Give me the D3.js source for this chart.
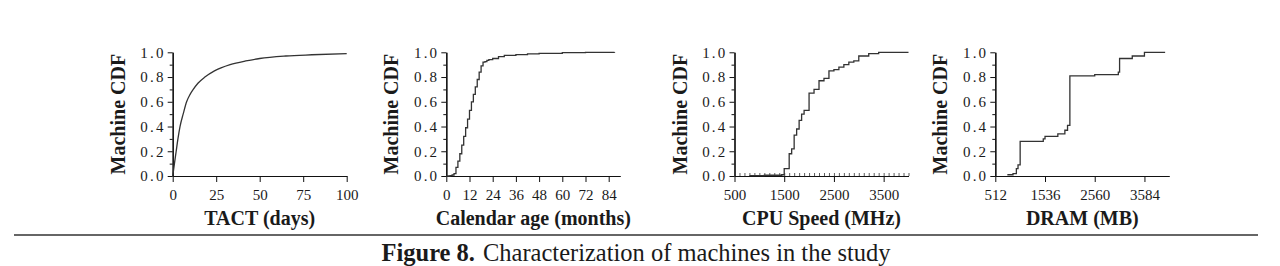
<!DOCTYPE html>
<html>
<head>
<meta charset="utf-8">
<script src="https://cdn.jsdelivr.net/npm/d3@7/dist/d3.min.js"></script>
<style>
  body { margin: 0; background: #fff; }
  svg text { font-family: "Liberation Serif", "Times New Roman", serif; fill: #1a1a1a; }
</style>
</head>
<body>
<svg id="chart" width="1280" height="266"></svg>
<script>
// TACT (days)
var tactDays = [0, 1, 2, 3, 4.2, 6, 8, 10, 11.8, 14.5, 18.5, 24, 33, 42, 50, 65, 80, 100];
var tactCdf  = [0, 0.1, 0.2, 0.3, 0.4, 0.5, 0.6, 0.66, 0.7, 0.75, 0.8, 0.85, 0.9, 0.93, 0.95, 0.97, 0.98, 0.99];

// Calendar age (months)
var ageMonths = [0, 1, 2, 3, 4, 5, 6, 7, 8, 9, 10, 11, 12, 13, 14, 15, 16, 17, 18, 19, 20, 21, 22, 24, 27, 30, 36, 42, 48, 60, 72, 87];
var ageCdf    = [0, 0, 0.003, 0.008, 0.02, 0.07, 0.12, 0.18, 0.25, 0.32, 0.39, 0.46, 0.53, 0.6, 0.66, 0.72, 0.78, 0.84, 0.89, 0.92, 0.925, 0.935, 0.94, 0.95, 0.965, 0.975, 0.982, 0.988, 0.992, 0.997, 0.999, 1.0];

// CPU speed (MHz)
var cpuMhz = [800, 1100, 1450, 1500, 1600, 1650, 1700, 1750, 1800, 1850, 1900, 2000, 2100, 2200, 2300, 2400, 2500, 2600, 2700, 2800, 2900, 3000, 3200, 3400, 4000];
var cpuCdf = [0.003, 0.006, 0.01, 0.06, 0.18, 0.22, 0.33, 0.38, 0.45, 0.5, 0.53, 0.67, 0.7, 0.77, 0.79, 0.85, 0.86, 0.88, 0.9, 0.92, 0.93, 0.97, 0.99, 1.0, 1.0];

// DRAM (MB)
var dramMb  = [760, 877, 946, 980, 1024, 1500, 1536, 1800, 1945, 2000, 2048, 2560, 3046, 3072, 3333, 3584, 4010];
var dramCdf = [0.01, 0.02, 0.06, 0.09, 0.28, 0.3, 0.32, 0.34, 0.37, 0.41, 0.81, 0.82, 0.84, 0.95, 0.97, 1.0, 1.0];

var cdfTicks = [0, 0.2, 0.4, 0.6, 0.8, 1.0];
var cdfMinor = [0.1, 0.3, 0.5, 0.7, 0.9];

var svg = d3.select("#chart");

var plotTop = 52.3, plotBottom = 176, plotW = 174;

function drawPanel(p) {
  var x = d3.scaleLinear().domain(p.domain).range([p.left, p.left + plotW]);
  var y = d3.scaleLinear().domain([0, 1]).range([plotBottom, plotTop]);
  var g = svg.append("g");

  // minor y ticks
  g.append("g")
    .attr("transform", "translate(" + p.left + ",0)")
    .call(d3.axisLeft(y).tickValues(cdfMinor).tickSize(3).tickSizeOuter(0).tickFormat(""));

  var ya = g.append("g")
    .attr("transform", "translate(" + p.left + ",0)")
    .call(d3.axisLeft(y).tickValues(cdfTicks).tickSize(5).tickSizeOuter(0).tickPadding(2).tickFormat(d3.format(".1f")));
  ya.selectAll("text").style("font-size", "15px").style("letter-spacing", "2.2px");

  if (p.minor) {
    g.append("g")
      .attr("class", "minor")
      .attr("transform", "translate(0," + plotBottom + ")")
      .call(d3.axisTop(x).tickValues(p.minor).tickSize(3).tickSizeOuter(0).tickFormat(""));
  }
  var xa = g.append("g")
    .attr("transform", "translate(0," + plotBottom + ")")
    .call(d3.axisBottom(x).tickValues(p.ticks).tickSize(6).tickSizeOuter(0).tickPadding(7).tickFormat(d3.format("d")));
  xa.selectAll("text").style("font-size", "15px");

  g.selectAll(".domain").attr("stroke", "#111").attr("stroke-width", 1.2);
  g.selectAll(".tick line").attr("stroke", "#111");
  g.selectAll(".minor .tick line").attr("stroke", "#333").attr("stroke-width", 0.8);

  var line = d3.line()
    .x(function(d, i) { return x(p.xs[i]); })
    .y(function(d) { return y(d); })
    .curve(p.curve);

  g.append("path")
    .datum(p.ys)
    .attr("fill", "none")
    .attr("stroke", "#333")
    .attr("stroke-width", 1.3)
    .attr("d", line);

  g.append("text")
    .attr("transform", "translate(" + (p.left - 48) + "," + ((plotTop + plotBottom) / 2) + ") rotate(-90)")
    .attr("text-anchor", "middle")
    .style("font-size", "20px")
    .style("font-weight", "bold")
    .text("Machine CDF");

  g.append("text")
    .attr("x", p.left + plotW / 2)
    .attr("y", 225)
    .attr("text-anchor", "middle")
    .style("font-size", "20px")
    .style("font-weight", "bold")
    .text(p.title);
}

drawPanel({ left: 172.7, domain: [0, 100], ticks: [0, 25, 50, 75, 100],
  xs: tactDays, ys: tactCdf, curve: d3.curveMonotoneX, title: "TACT (days)" });

drawPanel({ left: 446.3, domain: [0, 90], ticks: [0, 12, 24, 36, 48, 60, 72, 84],
  xs: ageMonths, ys: ageCdf, curve: d3.curveStepAfter, title: "Calendar age (months)" });

drawPanel({ left: 734.5, domain: [500, 4000], ticks: [500, 1500, 2500, 3500],
  minor: d3.range(600, 4001, 100),
  xs: cpuMhz, ys: cpuCdf, curve: d3.curveStepAfter, title: "CPU Speed (MHz)" });

drawPanel({ left: 995.3, domain: [512, 4096], ticks: [512, 1536, 2560, 3584],
  xs: dramMb, ys: dramCdf, curve: d3.curveStepAfter, title: "DRAM (MB)" });

// rule and caption
svg.append("line")
  .attr("x1", 14).attr("x2", 1258)
  .attr("y1", 235).attr("y2", 235)
  .attr("stroke", "#333").attr("stroke-width", 1.6);

var cap = svg.append("text")
  .attr("x", 636).attr("y", 260.5)
  .attr("text-anchor", "middle")
  .style("font-size", "24.5px");
cap.append("tspan").style("font-weight", "bold").text("Figure 8.");
cap.append("tspan").attr("dx", 8).text("Characterization of machines in the study");
</script>
</body>
</html>
